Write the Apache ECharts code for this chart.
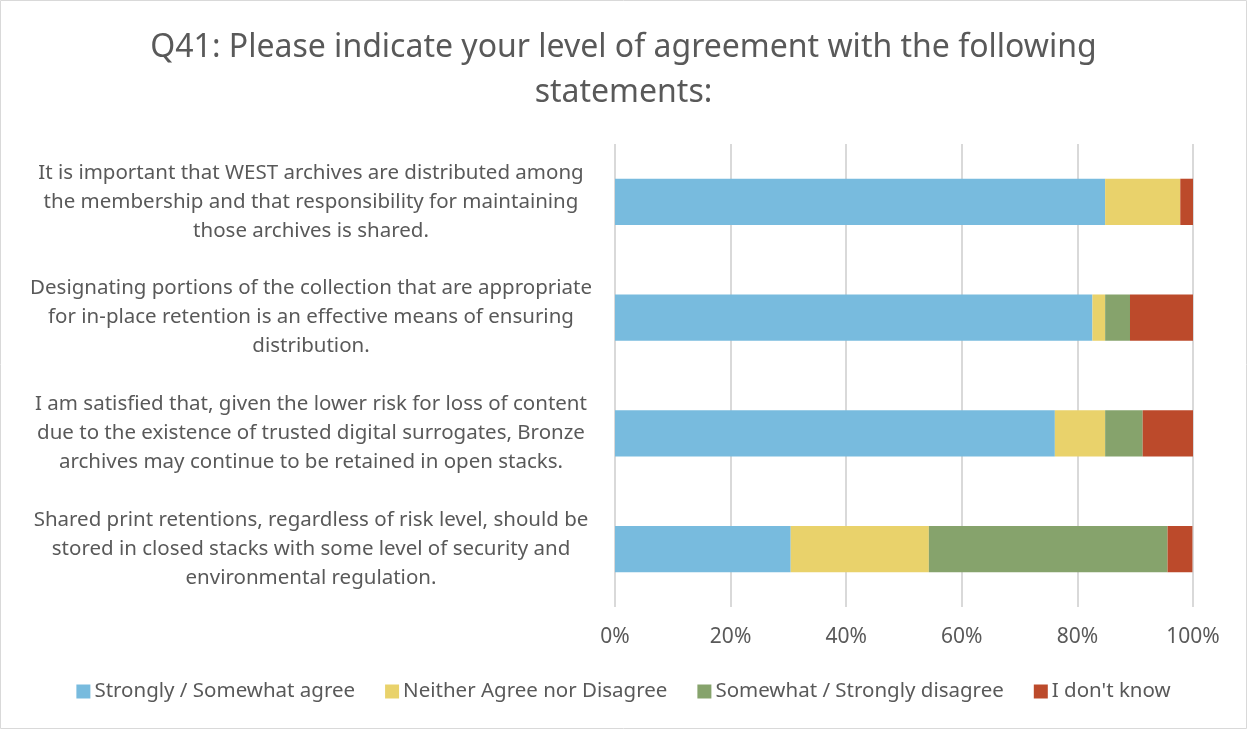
<!DOCTYPE html>
<html>
<head>
<meta charset="utf-8">
<script src="https://cdn.jsdelivr.net/npm/echarts@6/dist/echarts.min.js"></script>
<style>html,body{margin:0;padding:0;background:#fff}#c{width:1247px;height:729px}</style>
</head>
<body>
<div id="c"></div>
<script>
const categories = [
  "It is important that WEST archives are distributed among\nthe membership and that responsibility for maintaining\nthose archives is shared.",
  "Designating portions of the collection that are appropriate\nfor in-place retention is an effective means of ensuring\ndistribution.",
  "I am satisfied that, given the lower risk for loss of content\ndue to the existence of trusted digital surrogates, Bronze\narchives may continue to be retained in open stacks.",
  "Shared print retentions, regardless of risk level, should be\nstored in closed stacks with some level of security and\nenvironmental regulation."
];
const seriesNames = ["Strongly / Somewhat agree", "Neither Agree nor Disagree", "Somewhat / Strongly disagree", "I don't know"];
const agree = [84.8, 82.6, 76.1, 30.4];
const neither = [13.0, 2.2, 8.7, 23.9];
const disagree = [0, 4.3, 6.5, 41.3];
const dontKnow = [2.2, 10.9, 8.7, 4.3];
const xTicks = [0, 20, 40, 60, 80, 100];

const colors = ["#78BBDE", "#E9D26B", "#86A36C", "#BC4A2B"];
const values = [agree, neither, disagree, dontKnow];
const font = "Noto Sans";
const txt = "#595959";

const chart = echarts.init(document.getElementById('c'));
chart.setOption({
  animation: false,
  textStyle: { fontFamily: font },
  title: {
    text: "Q41: Please indicate your level of agreement with the following\nstatements:",
    left: 'center',
    top: 20,
    textStyle: { fontFamily: font, fontSize: 32, fontWeight: 'normal', color: txt, lineHeight: 45 }
  },
  graphic: [{
    type: 'rect', shape: { x: 0.5, y: 0.5, width: 1246, height: 728 },
    style: { fill: 'none', stroke: '#d9d9d9', lineWidth: 1 }, silent: true
  }],
  legend: {
    bottom: 22,
    left: 'center',
    itemWidth: 14, itemHeight: 14, itemGap: 30,
    icon: 'rect',
    textStyle: { fontFamily: font, fontSize: 20.5, color: txt, padding: [0, 0, 0, -1] },
    data: seriesNames
  },
  grid: { left: 615, right: 54, top: 144, bottom: 122, containLabel: false },
  xAxis: {
    type: 'value', min: 0, max: 100, interval: 20,
    axisLine: { show: false }, axisTick: { show: false },
    splitLine: { lineStyle: { color: '#d9d9d9', width: 2 } },
    axisLabel: { formatter: v => xTicks.includes(v) ? v + '%' : '', fontFamily: font, fontSize: 21, color: txt, margin: 20 }
  },
  yAxis: {
    type: 'category', inverse: true, data: categories,
    axisLine: { show: false }, axisTick: { show: false },
    axisLabel: { align: 'center', margin: 304, fontFamily: font, fontSize: 20.5, color: txt, lineHeight: 29 }
  },
  series: seriesNames.map((n, i) => ({
    name: n, type: 'bar', stack: 'total', data: values[i],
    barCategoryGap: '60%',
    itemStyle: { color: colors[i] }
  }))
});
</script>
</body>
</html>
